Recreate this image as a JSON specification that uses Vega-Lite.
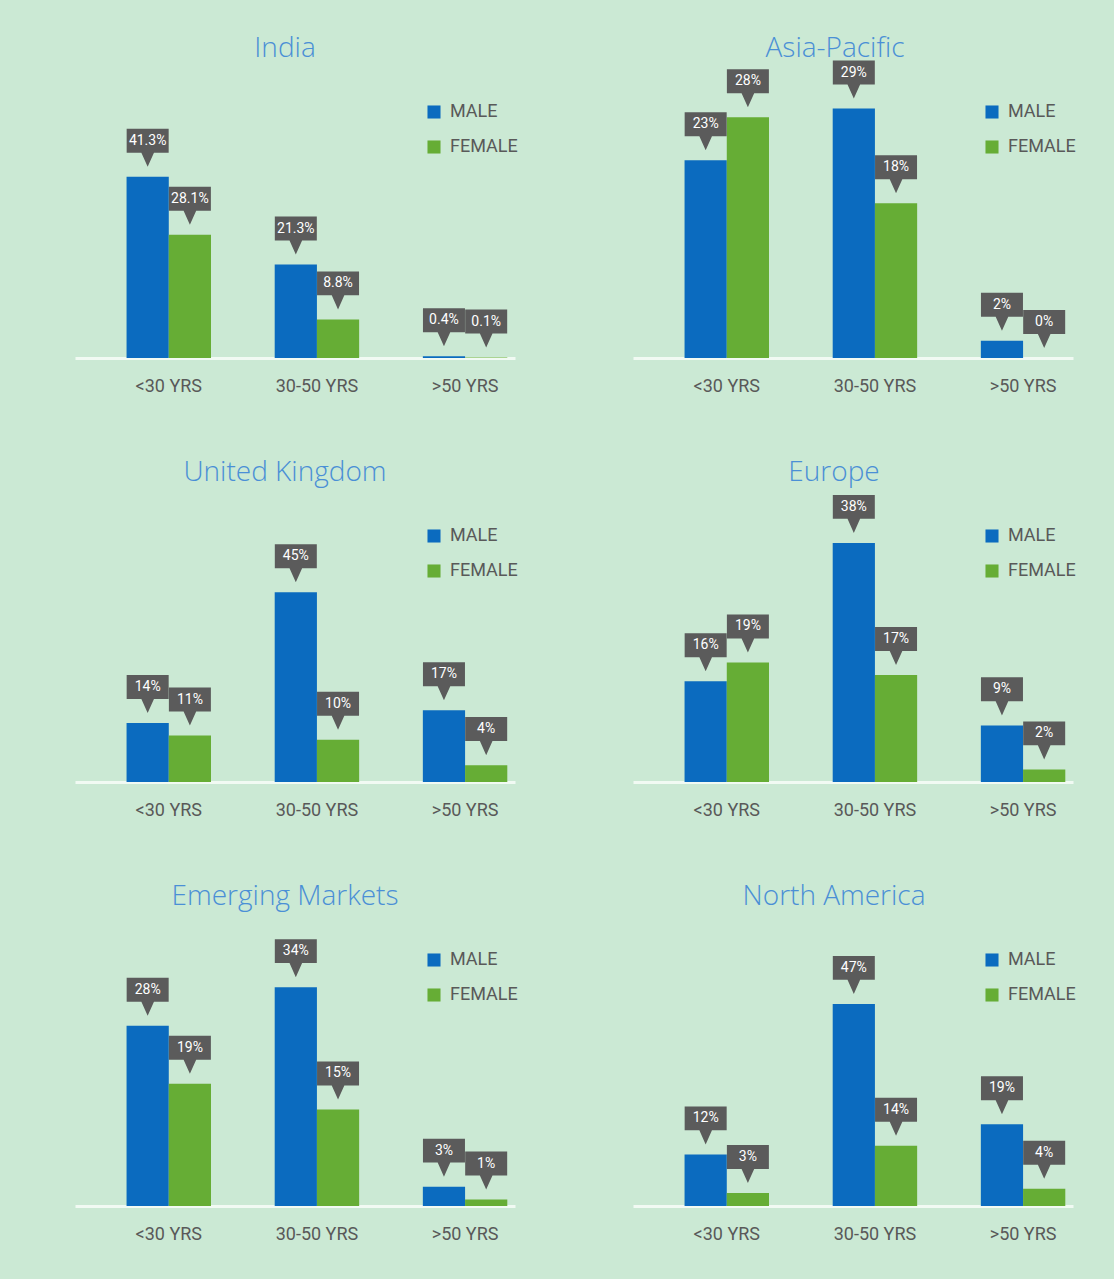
{
  "$schema": "https://vega.github.io/schema/vega-lite/v6.json",
  "background": "#cbe9d4",
  "padding": {"left": 75, "top": 35, "right": 41, "bottom": 36},
  "datasets": {
    "d": [
      {"panel": "India", "age": "<30 YRS", "gender": "MALE", "value": 41.3, "label": "41.3%"},
      {"panel": "India", "age": "<30 YRS", "gender": "FEMALE", "value": 28.1, "label": "28.1%"},
      {"panel": "India", "age": "30-50 YRS", "gender": "MALE", "value": 21.3, "label": "21.3%"},
      {"panel": "India", "age": "30-50 YRS", "gender": "FEMALE", "value": 8.8, "label": "8.8%"},
      {"panel": "India", "age": ">50 YRS", "gender": "MALE", "value": 0.4, "label": "0.4%"},
      {"panel": "India", "age": ">50 YRS", "gender": "FEMALE", "value": 0.1, "label": "0.1%"},
      {"panel": "Asia-Pacific", "age": "<30 YRS", "gender": "MALE", "value": 23, "label": "23%"},
      {"panel": "Asia-Pacific", "age": "<30 YRS", "gender": "FEMALE", "value": 28, "label": "28%"},
      {"panel": "Asia-Pacific", "age": "30-50 YRS", "gender": "MALE", "value": 29, "label": "29%"},
      {"panel": "Asia-Pacific", "age": "30-50 YRS", "gender": "FEMALE", "value": 18, "label": "18%"},
      {"panel": "Asia-Pacific", "age": ">50 YRS", "gender": "MALE", "value": 2, "label": "2%"},
      {"panel": "Asia-Pacific", "age": ">50 YRS", "gender": "FEMALE", "value": 0, "label": "0%"},
      {"panel": "United Kingdom", "age": "<30 YRS", "gender": "MALE", "value": 14, "label": "14%"},
      {"panel": "United Kingdom", "age": "<30 YRS", "gender": "FEMALE", "value": 11, "label": "11%"},
      {"panel": "United Kingdom", "age": "30-50 YRS", "gender": "MALE", "value": 45, "label": "45%"},
      {"panel": "United Kingdom", "age": "30-50 YRS", "gender": "FEMALE", "value": 10, "label": "10%"},
      {"panel": "United Kingdom", "age": ">50 YRS", "gender": "MALE", "value": 17, "label": "17%"},
      {"panel": "United Kingdom", "age": ">50 YRS", "gender": "FEMALE", "value": 4, "label": "4%"},
      {"panel": "Europe", "age": "<30 YRS", "gender": "MALE", "value": 16, "label": "16%"},
      {"panel": "Europe", "age": "<30 YRS", "gender": "FEMALE", "value": 19, "label": "19%"},
      {"panel": "Europe", "age": "30-50 YRS", "gender": "MALE", "value": 38, "label": "38%"},
      {"panel": "Europe", "age": "30-50 YRS", "gender": "FEMALE", "value": 17, "label": "17%"},
      {"panel": "Europe", "age": ">50 YRS", "gender": "MALE", "value": 9, "label": "9%"},
      {"panel": "Europe", "age": ">50 YRS", "gender": "FEMALE", "value": 2, "label": "2%"},
      {"panel": "Emerging Markets", "age": "<30 YRS", "gender": "MALE", "value": 28, "label": "28%"},
      {"panel": "Emerging Markets", "age": "<30 YRS", "gender": "FEMALE", "value": 19, "label": "19%"},
      {"panel": "Emerging Markets", "age": "30-50 YRS", "gender": "MALE", "value": 34, "label": "34%"},
      {"panel": "Emerging Markets", "age": "30-50 YRS", "gender": "FEMALE", "value": 15, "label": "15%"},
      {"panel": "Emerging Markets", "age": ">50 YRS", "gender": "MALE", "value": 3, "label": "3%"},
      {"panel": "Emerging Markets", "age": ">50 YRS", "gender": "FEMALE", "value": 1, "label": "1%"},
      {"panel": "North America", "age": "<30 YRS", "gender": "MALE", "value": 12, "label": "12%"},
      {"panel": "North America", "age": "<30 YRS", "gender": "FEMALE", "value": 3, "label": "3%"},
      {"panel": "North America", "age": "30-50 YRS", "gender": "MALE", "value": 47, "label": "47%"},
      {"panel": "North America", "age": "30-50 YRS", "gender": "FEMALE", "value": 14, "label": "14%"},
      {"panel": "North America", "age": ">50 YRS", "gender": "MALE", "value": 19, "label": "19%"},
      {"panel": "North America", "age": ">50 YRS", "gender": "FEMALE", "value": 4, "label": "4%"}
    ]
  },
  "columns": 2,
  "spacing": {"row": 117, "column": 118},
  "bounds": "flush",
  "resolve": {"legend": {"color": "independent"}},
  "concat": [
    {
      "title": {"text": "India", "dx": -10}, "width": 440, "height": 307, "data": {"name": "d"},
      "transform": [{"filter": "datum.panel === 'India'"}],
      "encoding": {
        "x": {"field": "age", "type": "nominal", "sort": ["<30 YRS", "30-50 YRS", ">50 YRS"], "title": null, "scale": {"paddingInner": 0.43, "paddingOuter": 0.2, "align": 0.87}},
        "xOffset": {"field": "gender", "type": "nominal", "sort": ["MALE", "FEMALE"], "scale": {"paddingInner": 0, "paddingOuter": 0}},
        "y": {"field": "value", "type": "quantitative", "title": null, "scale": {"domain": [0, 70.0], "nice": false}}
      },
      "layer": [
        {"mark": {"type": "bar"}, "encoding": {"color": {"field": "gender", "type": "nominal", "sort": ["MALE", "FEMALE"], "scale": {"domain": ["MALE", "FEMALE"], "range": ["#0b6bbf", "#66ad35"]}, "legend": {"title": null, "orient": "none", "legendX": 350, "legendY": 52}}}},
        {"mark": {"type": "point", "shape": "M-1,-1.81L1,-1.81L1,-0.67L0.3,-0.67L0,0L-0.3,-0.67L-1,-0.67Z", "size": 1764, "filled": true, "color": "#5b5b5b", "opacity": 1, "yOffset": -10}},
        {"mark": {"type": "text", "color": "#ffffff", "fontSize": 14, "dy": -36, "baseline": "middle", "font": "Roboto"}, "encoding": {"text": {"field": "label"}}}
      ]
    },
    {
      "title": {"text": "Asia-Pacific", "dx": -18}, "width": 440, "height": 307, "data": {"name": "d"},
      "transform": [{"filter": "datum.panel === 'Asia-Pacific'"}],
      "encoding": {
        "x": {"field": "age", "type": "nominal", "sort": ["<30 YRS", "30-50 YRS", ">50 YRS"], "title": null, "scale": {"paddingInner": 0.43, "paddingOuter": 0.2, "align": 0.87}},
        "xOffset": {"field": "gender", "type": "nominal", "sort": ["MALE", "FEMALE"], "scale": {"paddingInner": 0, "paddingOuter": 0}},
        "y": {"field": "value", "type": "quantitative", "title": null, "scale": {"domain": [0, 35.7], "nice": false}}
      },
      "layer": [
        {"mark": {"type": "bar"}, "encoding": {"color": {"field": "gender", "type": "nominal", "sort": ["MALE", "FEMALE"], "scale": {"domain": ["MALE", "FEMALE"], "range": ["#0b6bbf", "#66ad35"]}, "legend": {"title": null, "orient": "none", "legendX": 350, "legendY": 52}}}},
        {"mark": {"type": "point", "shape": "M-1,-1.81L1,-1.81L1,-0.67L0.3,-0.67L0,0L-0.3,-0.67L-1,-0.67Z", "size": 1764, "filled": true, "color": "#5b5b5b", "opacity": 1, "yOffset": -10}},
        {"mark": {"type": "text", "color": "#ffffff", "fontSize": 14, "dy": -36, "baseline": "middle", "font": "Roboto"}, "encoding": {"text": {"field": "label"}}}
      ]
    },
    {
      "title": {"text": "United Kingdom", "dx": -10}, "width": 440, "height": 307, "data": {"name": "d"},
      "transform": [{"filter": "datum.panel === 'United Kingdom'"}],
      "encoding": {
        "x": {"field": "age", "type": "nominal", "sort": ["<30 YRS", "30-50 YRS", ">50 YRS"], "title": null, "scale": {"paddingInner": 0.43, "paddingOuter": 0.2, "align": 0.87}},
        "xOffset": {"field": "gender", "type": "nominal", "sort": ["MALE", "FEMALE"], "scale": {"paddingInner": 0, "paddingOuter": 0}},
        "y": {"field": "value", "type": "quantitative", "title": null, "scale": {"domain": [0, 72.8], "nice": false}}
      },
      "layer": [
        {"mark": {"type": "bar"}, "encoding": {"color": {"field": "gender", "type": "nominal", "sort": ["MALE", "FEMALE"], "scale": {"domain": ["MALE", "FEMALE"], "range": ["#0b6bbf", "#66ad35"]}, "legend": {"title": null, "orient": "none", "legendX": 350, "legendY": 52}}}},
        {"mark": {"type": "point", "shape": "M-1,-1.81L1,-1.81L1,-0.67L0.3,-0.67L0,0L-0.3,-0.67L-1,-0.67Z", "size": 1764, "filled": true, "color": "#5b5b5b", "opacity": 1, "yOffset": -10}},
        {"mark": {"type": "text", "color": "#ffffff", "fontSize": 14, "dy": -36, "baseline": "middle", "font": "Roboto"}, "encoding": {"text": {"field": "label"}}}
      ]
    },
    {
      "title": {"text": "Europe", "dx": -19}, "width": 440, "height": 307, "data": {"name": "d"},
      "transform": [{"filter": "datum.panel === 'Europe'"}],
      "encoding": {
        "x": {"field": "age", "type": "nominal", "sort": ["<30 YRS", "30-50 YRS", ">50 YRS"], "title": null, "scale": {"paddingInner": 0.43, "paddingOuter": 0.2, "align": 0.87}},
        "xOffset": {"field": "gender", "type": "nominal", "sort": ["MALE", "FEMALE"], "scale": {"paddingInner": 0, "paddingOuter": 0}},
        "y": {"field": "value", "type": "quantitative", "title": null, "scale": {"domain": [0, 48.8], "nice": false}}
      },
      "layer": [
        {"mark": {"type": "bar"}, "encoding": {"color": {"field": "gender", "type": "nominal", "sort": ["MALE", "FEMALE"], "scale": {"domain": ["MALE", "FEMALE"], "range": ["#0b6bbf", "#66ad35"]}, "legend": {"title": null, "orient": "none", "legendX": 350, "legendY": 52}}}},
        {"mark": {"type": "point", "shape": "M-1,-1.81L1,-1.81L1,-0.67L0.3,-0.67L0,0L-0.3,-0.67L-1,-0.67Z", "size": 1764, "filled": true, "color": "#5b5b5b", "opacity": 1, "yOffset": -10}},
        {"mark": {"type": "text", "color": "#ffffff", "fontSize": 14, "dy": -36, "baseline": "middle", "font": "Roboto"}, "encoding": {"text": {"field": "label"}}}
      ]
    },
    {
      "title": {"text": "Emerging Markets", "dx": -10}, "width": 440, "height": 307, "data": {"name": "d"},
      "transform": [{"filter": "datum.panel === 'Emerging Markets'"}],
      "encoding": {
        "x": {"field": "age", "type": "nominal", "sort": ["<30 YRS", "30-50 YRS", ">50 YRS"], "title": null, "scale": {"paddingInner": 0.43, "paddingOuter": 0.2, "align": 0.87}},
        "xOffset": {"field": "gender", "type": "nominal", "sort": ["MALE", "FEMALE"], "scale": {"paddingInner": 0, "paddingOuter": 0}},
        "y": {"field": "value", "type": "quantitative", "title": null, "scale": {"domain": [0, 47.7], "nice": false}}
      },
      "layer": [
        {"mark": {"type": "bar"}, "encoding": {"color": {"field": "gender", "type": "nominal", "sort": ["MALE", "FEMALE"], "scale": {"domain": ["MALE", "FEMALE"], "range": ["#0b6bbf", "#66ad35"]}, "legend": {"title": null, "orient": "none", "legendX": 350, "legendY": 52}}}},
        {"mark": {"type": "point", "shape": "M-1,-1.81L1,-1.81L1,-0.67L0.3,-0.67L0,0L-0.3,-0.67L-1,-0.67Z", "size": 1764, "filled": true, "color": "#5b5b5b", "opacity": 1, "yOffset": -10}},
        {"mark": {"type": "text", "color": "#ffffff", "fontSize": 14, "dy": -36, "baseline": "middle", "font": "Roboto"}, "encoding": {"text": {"field": "label"}}}
      ]
    },
    {
      "title": {"text": "North America", "dx": -19}, "width": 440, "height": 307, "data": {"name": "d"},
      "transform": [{"filter": "datum.panel === 'North America'"}],
      "encoding": {
        "x": {"field": "age", "type": "nominal", "sort": ["<30 YRS", "30-50 YRS", ">50 YRS"], "title": null, "scale": {"paddingInner": 0.43, "paddingOuter": 0.2, "align": 0.87}},
        "xOffset": {"field": "gender", "type": "nominal", "sort": ["MALE", "FEMALE"], "scale": {"paddingInner": 0, "paddingOuter": 0}},
        "y": {"field": "value", "type": "quantitative", "title": null, "scale": {"domain": [0, 71.4], "nice": false}}
      },
      "layer": [
        {"mark": {"type": "bar"}, "encoding": {"color": {"field": "gender", "type": "nominal", "sort": ["MALE", "FEMALE"], "scale": {"domain": ["MALE", "FEMALE"], "range": ["#0b6bbf", "#66ad35"]}, "legend": {"title": null, "orient": "none", "legendX": 350, "legendY": 52}}}},
        {"mark": {"type": "point", "shape": "M-1,-1.81L1,-1.81L1,-0.67L0.3,-0.67L0,0L-0.3,-0.67L-1,-0.67Z", "size": 1764, "filled": true, "color": "#5b5b5b", "opacity": 1, "yOffset": -10}},
        {"mark": {"type": "text", "color": "#ffffff", "fontSize": 14, "dy": -36, "baseline": "middle", "font": "Roboto"}, "encoding": {"text": {"field": "label"}}}
      ]
    }
  ],
  "config": {
    "view": {"stroke": null},
    "title": {"fontSize": 28, "font": "Open Sans", "fontWeight": 300, "color": "#4a8fd6", "offset": -12, "anchor": "middle"},
    "axis": {"grid": false, "ticks": false},
    "axisX": {"labelAngle": 0, "domainColor": "#f1faf3", "domainWidth": 3, "labelFontSize": 18, "labelColor": "#595959", "labelFont": "Roboto", "labelPadding": 19},
    "axisY": {"labels": false, "domain": false},
    "legend": {"symbolType": "square", "symbolSize": 170, "symbolStrokeWidth": 0, "labelFontSize": 18, "labelColor": "#595959", "labelFont": "Roboto", "rowPadding": 17, "labelOffset": 7}
  }
}
